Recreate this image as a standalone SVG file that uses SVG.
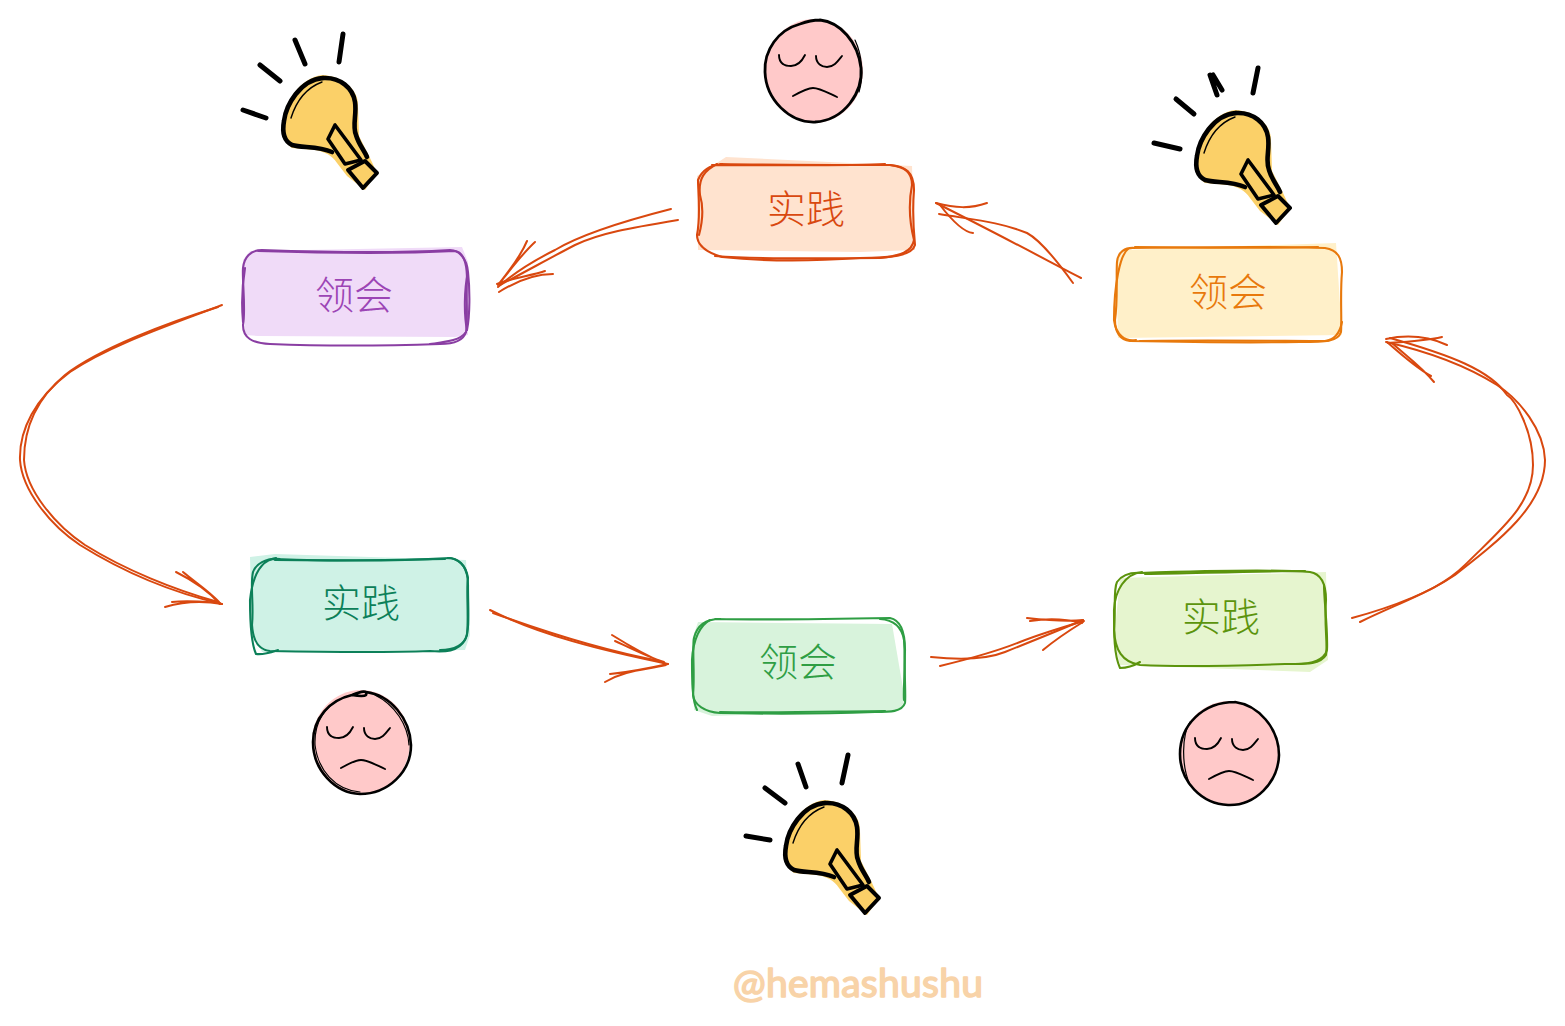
<svg xmlns="http://www.w3.org/2000/svg" xmlns:xlink="http://www.w3.org/1999/xlink" width="1565" height="1026" viewBox="0 0 1565 1026">
<style>
.lbl{font-family:"Noto Sans CJK SC","Noto Sans",sans-serif;font-weight:300;font-size:39px;text-anchor:middle}
.sk{fill:none;stroke-width:2.1;stroke-linecap:round;stroke-linejoin:round}
.conn path{fill:none;stroke:#d9480f;stroke-width:2;stroke-linecap:round;stroke-linejoin:round}
.ray{fill:none;stroke:#000;stroke-width:5;stroke-linecap:round}
.skin{fill:#ffc9c9}
.ln{fill:none;stroke:#000;stroke-linecap:round;stroke-linejoin:round}
.mark{font-family:"Lato","Noto Sans",sans-serif;font-size:39px;fill:#f8d3a8;stroke:#f8d3a8;stroke-width:1.6;stroke-linejoin:round}
</style>
<defs>
<g id="bulb">
<path d="M322,75C343,76 359,90 358,106L359,136L370,158L377,173L365,190L347,176L337,163C332,155 325,152 315,150L292,148C284,143 281,132 283,120C285,102 300,78 322,75Z" fill="#fbd068"/>
<path class="ln" stroke-width="4.6" d="M323,78C340,77 353,88 355,102C357,115 352,125 356,135C359,145 364,150 367,157"/>
<path class="ln" stroke-width="4.6" d="M332,152C318,146 302,148 292,145C284,141 282,132 284,121C286,105 300,80 323,78"/>
<path class="ln" stroke-width="1.4" d="M291,118C296,102 306,88 322,82"/>
<path class="ln" stroke-width="3.6" d="M335,125L328,139L345,164L361,160Z" fill="#fcbf3a"/>
<path class="ln" stroke-width="4" d="M348,170L365,161L377,173L363,188Z" fill="#fbd068"/>
</g>
<g id="face-lines">
<path class="ln" stroke-width="1.9" d="M-35,-16C-35,-7 -29,-5 -23,-5C-17,-5 -12,-10 -9,-16M2,-15C2,-7 8,-4 13,-4C20,-4 24,-10 28,-15"/>
<path class="ln" stroke-width="1.9" d="M-21,25C-12,20 -6,17 -1,17C6,17 14,22 23,26"/>
</g>
</defs>
<rect width="1565" height="1026" fill="#fff"/>

<g id="connectors" class="conn">
<path d="M671,209C620,222 580,235 555,250C535,260 515,272 498,287"/>
<path d="M678,220C630,228 600,233 575,245C550,258 525,272 500,285"/>
<path d="M527,241C520,258 508,272 498,285M535,242C522,254 510,270 499,284"/>
<path d="M545,271C530,276 512,278 497,284M553,274C535,274 515,282 499,292"/>
<path d="M1081,278C1050,262 1000,235 936,203"/>
<path d="M1073,283C1055,258 1040,240 1027,233C1000,222 975,220 939,214"/>
<path d="M987,203C970,209 955,208 936,203"/>
<path d="M973,233C962,232 950,218 940,205"/>
<path d="M1352,618C1400,605 1430,592 1455,575C1500,540 1545,505 1545,460C1544,430 1520,400 1497,385C1470,368 1430,352 1386,342"/>
<path d="M1360,622C1405,600 1440,590 1465,565C1500,530 1533,505 1533,465C1533,430 1515,400 1507,395C1490,370 1450,355 1390,338"/>
<path d="M1386,339C1405,335 1425,335 1447,345M1388,343C1405,342 1425,341 1442,337"/>
<path d="M1392,343C1405,355 1420,365 1434,382M1387,342C1405,358 1420,370 1431,376"/>
<path d="M931,657C960,660 985,660 1005,652C1030,642 1060,630 1083,620"/>
<path d="M940,666C965,660 1000,650 1020,642C1040,634 1060,628 1084,621"/>
<path d="M1027,618C1045,620 1065,622 1083,620M1030,621C1050,618 1070,620 1082,623"/>
<path d="M1043,650C1055,640 1070,630 1083,622"/>
<path d="M490,610C540,635 600,650 668,664"/>
<path d="M493,613C540,630 600,650 660,661"/>
<path d="M612,635C628,645 645,655 666,664M615,641C630,648 650,658 664,662"/>
<path d="M605,682C625,670 645,670 666,665M610,674C630,672 650,668 668,664"/>
<path d="M222,305C170,325 110,345 70,372C35,398 19,430 20,460C22,490 50,525 80,545C120,570 170,592 222,604"/>
<path d="M218,307C170,322 100,348 65,375C35,400 24,430 24,460C26,490 55,525 85,545C125,570 175,590 218,602"/>
<path d="M176,572C192,580 208,590 220,604M183,572C195,582 210,592 219,602"/>
<path d="M165,607C185,601 205,601 222,604M172,602C190,600 205,602 220,603"/>
</g>

<g id="node-lingHui-purple">
<path d="M250,251L462,247L468,262V335L455,337L258,336L245,335L243,260Z" fill="#f0dbf8"/>
<path class="sk" stroke="#8a3ea3" d="M258,251C320,253 400,254 455,251C463,252 467,262 467,280C466,300 468,320 466,332C463,342 452,344 440,344C380,346 320,346 270,344C252,343 243,338 243,325C246,310 242,280 243,268C244,258 250,250 262,250"/>
<path class="sk" stroke="#8a3ea3" d="M262,250C320,252 400,253 450,250C460,250 467,260 468,272C464,290 464,315 467,330M468,272C470,290 470,315 467,330M466,332C460,341 445,342 430,344M243,322C241,300 243,280 245,268"/>
<text class="lbl" x="354" y="309" fill="#9c45b5">领会</text>
</g>

<g id="node-shijian-orange">
<path d="M726,157L912,166L915,250L860,252L698,250L697,176Z" fill="#ffe3cf"/>
<path class="sk" stroke="#d9480f" d="M720,164C780,165 850,165 890,165C905,166 914,172 914,190C912,215 914,235 915,245C912,256 890,258 860,258C800,262 750,260 722,257C705,252 697,245 697,235C701,215 698,190 698,180C702,170 710,165 722,164"/>
<path class="sk" stroke="#d9480f" d="M717,164C705,170 698,178 700,195C703,205 703,220 699,235M715,256C770,260 840,258 880,258C900,256 912,252 914,240C909,220 909,200 912,185C912,172 905,167 890,165M712,165C770,165 850,166 885,164"/>
<text class="lbl" x="806" y="223" fill="#d9480f">实践</text>
</g>

<g id="node-lingHui-yellow">
<path d="M1125,250L1336,243L1342,335L1118,338L1116,260Z" fill="#fff0c9"/>
<path class="sk" stroke="#e8790c" d="M1132,248C1200,247 1280,246 1325,248C1338,250 1342,258 1342,272C1340,295 1342,320 1341,332C1338,342 1325,342 1300,342C1240,343 1180,342 1130,341C1120,340 1115,332 1115,320C1118,300 1116,275 1117,262C1118,252 1125,247 1135,248"/>
<path class="sk" stroke="#e8790c" d="M1128,249C1120,255 1114,285 1114,320C1116,335 1125,342 1136,340M1140,341C1200,340 1290,341 1325,341C1335,340 1340,332 1342,322M1135,247C1200,248 1270,248 1318,247"/>
<text class="lbl" x="1228" y="306" fill="#e8790c">领会</text>
</g>

<g id="node-shijian-teal">
<path d="M250,557L275,554L466,560L470,635L465,650L262,652L252,630Z" fill="#cff2e6"/>
<path class="sk" stroke="#0c8059" d="M275,559C330,561 400,561 450,558C462,560 468,568 468,585C468,610 470,630 465,640C458,652 445,652 430,651C380,653 320,652 270,651C258,650 253,640 252,625C254,605 250,585 253,572C256,564 265,558 280,559"/>
<path class="sk" stroke="#0c8059" d="M276,558C262,560 253,572 250,600C250,625 252,645 256,654C264,655 272,652 278,650M440,650C455,650 464,645 467,635C469,615 466,590 468,578C466,565 458,558 448,558M275,560C340,561 400,560 445,559"/>
<text class="lbl" x="361" y="617" fill="#0c8059">实践</text>
</g>

<g id="node-lingHui-green">
<path d="M698,622L892,624L905,700L900,710L712,716L694,710L692,640Z" fill="#d8f3dc"/>
<path class="sk" stroke="#2f9e44" d="M715,619C770,620 840,619 890,618C900,620 905,630 905,650C904,675 906,695 905,703C902,712 890,712 875,712C820,714 770,714 720,713C705,712 694,705 693,695C695,675 692,650 694,638C697,625 706,619 720,619"/>
<path class="sk" stroke="#2f9e44" d="M710,620C700,625 693,640 692,660C692,680 692,700 697,710M880,619C895,620 902,628 904,640C906,665 903,690 904,700M720,712C780,713 850,711 885,711"/>
<text class="lbl" x="798" y="676" fill="#2f9e44">领会</text>
</g>

<g id="node-shijian-lime">
<path d="M1120,578L1326,572L1328,660L1310,672L1120,665L1114,640Z" fill="#e6f5cf"/>
<path class="sk" stroke="#5c940d" d="M1140,573C1200,571 1270,569 1310,572C1322,574 1326,585 1326,600C1324,625 1328,645 1326,655C1320,665 1305,664 1285,664C1230,666 1180,667 1140,665C1122,662 1115,650 1114,630C1116,610 1113,590 1117,582C1122,575 1130,572 1142,573"/>
<path class="sk" stroke="#5c940d" d="M1142,572C1125,574 1115,590 1114,610C1114,635 1114,655 1120,668C1128,668 1135,665 1140,662M1295,664C1312,664 1324,660 1327,650C1328,630 1324,600 1324,585M1145,574C1200,573 1270,571 1305,571"/>
<text class="lbl" x="1221" y="631" fill="#5c940d">实践</text>
</g>

<g id="face-top">
<ellipse class="skin" cx="814" cy="71" rx="49" ry="52"/>
<path class="ln" stroke-width="2.8" d="M820,20C840,22 858,42 861,68C863,92 845,120 815,122C790,123 766,100 765,72C764,50 778,30 800,24C808,21 815,20 820,20"/>
<path class="ln" stroke-width="1.2" d="M855,40C862,55 864,75 859,92"/>
<use xlink:href="#face-lines" href="#face-lines" x="814" y="71"/>
</g>

<g id="face-left">
<ellipse class="skin" cx="361" cy="742" rx="49" ry="52"/>
<path class="ln" stroke-width="2.6" d="M366,692C390,695 410,718 411,745C411,772 388,794 360,794C335,793 313,770 313,742C313,718 330,700 352,695C362,691 368,690 366,695C364,697 358,696 352,695"/>
<path class="ln" stroke-width="1.2" d="M345,697C325,705 314,722 315,745C318,770 335,790 360,792M375,695C395,705 408,725 409,745"/>
<use xlink:href="#face-lines" href="#face-lines" x="362" y="743"/>
</g>

<g id="face-right">
<ellipse class="skin" cx="1229" cy="753" rx="49" ry="52"/>
<path class="ln" stroke-width="2.6" d="M1235,702C1258,705 1279,728 1279,755C1278,783 1255,806 1228,805C1202,804 1180,782 1180,754C1180,725 1203,702 1235,702"/>
<path class="ln" stroke-width="1.2" d="M1190,722C1182,735 1181,765 1190,785"/>
<use xlink:href="#face-lines" href="#face-lines" x="1230" y="754"/>
</g>

<g id="bulb-left">
<use xlink:href="#bulb" href="#bulb"/>
<path class="ray" d="M243,110L266,118M260,65L280,81M295,40L305,64M343,34L339,62"/>
</g>
<g id="bulb-right">
<use xlink:href="#bulb" href="#bulb" x="913" y="35"/>
<path class="ray" d="M1154,143L1180,149M1176,99L1194,114M1210,75L1217,95M1258,68L1253,93M1213,75L1222,90"/>
</g>
<g id="bulb-bottom">
<use xlink:href="#bulb" href="#bulb" x="502" y="725"/>
<path class="ray" d="M746,836L770,840M765,788L785,803M798,764L806,787M848,755L842,783"/>
</g>

<text id="watermark" class="mark" x="733" y="997" textLength="250" lengthAdjust="spacing">@hemashushu</text>
</svg>
